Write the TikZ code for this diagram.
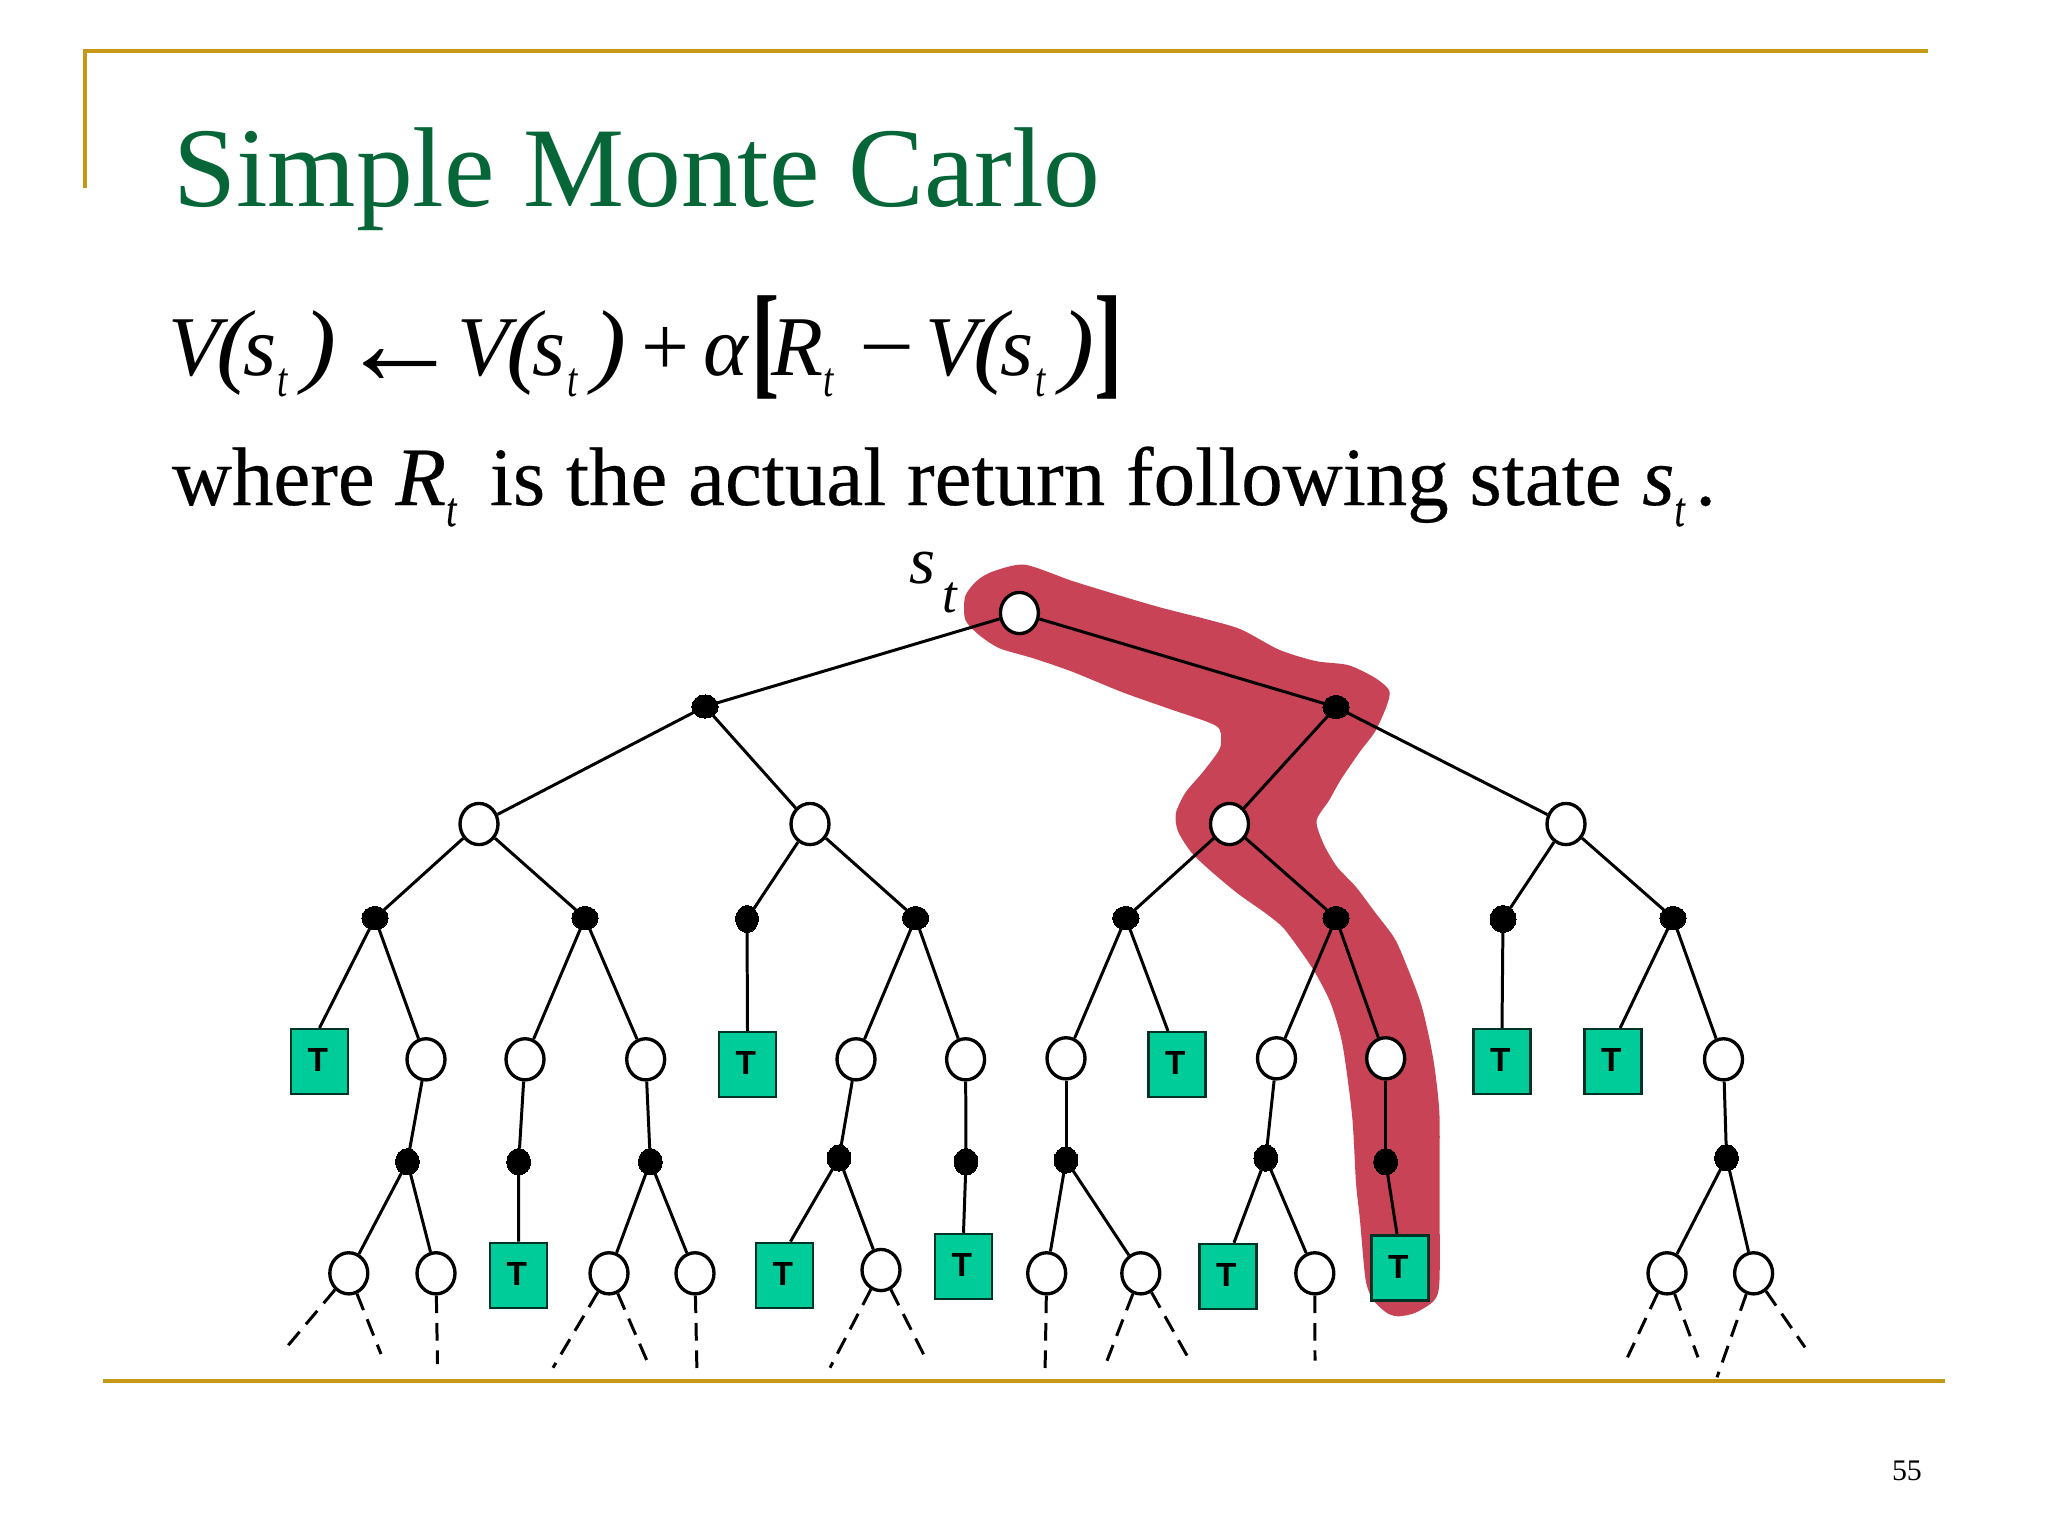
\documentclass[tikz,border=0pt]{standalone}
\usepackage{fontspec}
\setmainfont{Liberation Serif}
\newfontfamily\tfont{Liberation Sans}
\newfontfamily\heavyserif[FakeBold=0.3]{Liberation Serif}
\usetikzlibrary{shapes.geometric}
\definecolor{gold}{RGB}{198,152,24}
\definecolor{titlegreen}{RGB}{6,102,56}
\definecolor{tgreen}{RGB}{0,204,153}
\definecolor{blobred}{RGB}{200,67,85}
\newcommand{\Tee}{\raisebox{0.8pt}{T}\kern1pt}
\newcommand{\Sb}[1]{\raisebox{-6pt}{\scalebox{0.75}[1]{\fontsize{14}{16}\selectfont\itshape #1}}}
\newcommand{\Pn}[1]{\scalebox{1.2}[1.1]{\itshape #1}}
\newcommand{\Vst}{{\itshape V}\kern-1pt\Pn{(}\kern-2.1pt{\itshape s}\kern0.4pt\Sb{t}\kern4.2pt\Pn{)}}
\newcommand{\Brk}[1]{\raisebox{-2pt}{\scalebox{1}[1.47]{\bfseries #1}}}
\tikzset{
  wstate/.style={ellipse,draw=black,fill=white,line width=0.95pt,minimum width=10.8pt,minimum height=11.7pt,inner sep=0pt},
  bstate/.style={ellipse,fill=black,draw=black,line width=0pt,minimum width=7.5pt,minimum height=6.6pt,inner sep=0pt},
  cstate/.style={bstate,minimum width=6.8pt,minimum height=7.5pt},
  tbox/.style={rectangle,draw=black!75!tgreen,fill=tgreen,line width=0.7pt,minimum width=16.2pt,minimum height=18.5pt,inner sep=0pt,font=\tfont\bfseries\fontsize{9.5}{11}\selectfont},
  edge/.style={draw=black,line width=0.85pt},
  dashedge/.style={draw=black,line width=0.85pt,dash pattern=on 5pt off 2.8pt},
  frameline/.style={draw=gold,line width=1.15pt},
  txt/.style={anchor=base west,inner sep=0pt,outer sep=0pt}
}
\begin{document}
\begin{tikzpicture}[x=0.01cm,y=-0.01cm]
\useasboundingbox (0,0) rectangle (2048,1535);
% frame
\coordinate (fa) at (85,188); \coordinate (fb) at (85,51); \coordinate (fc) at (1928,51);
\coordinate (fd) at (103,1381); \coordinate (fe) at (1945,1381);
\draw[frameline] (fa) -- (fb) -- (fc);
\draw[frameline] (fd) -- (fe);
% texts
\node[txt,text=titlegreen,font=\fontsize{32.3}{36}\selectfont] (title) at (173,206.7) {Simple Monte Carlo};
\node[txt,font=\fontsize{24.2}{28}\selectfont] (eq) at (168,375) {\Vst\kern0.6pt\raisebox{-2.8pt}{\scalebox{1.45}{\bfseries\char"2190}}\kern-1.3pt\Vst\kern4.2pt+\kern4pt{\itshape\char"03B1}\kern1pt\Brk{[}\kern-2.4pt{\itshape R}\Sb{t}\kern7.5pt\scalebox{1.15}[1]{\char"2212}\kern3pt\Vst\kern0pt\Brk{]}};
\node[txt,font=\heavyserif\fontsize{23.6}{28}\selectfont] (where) at (172,505) {where {\itshape R}\Sb{t}\kern9.5pt is the actual return following state {\itshape s}\Sb{t}\kern3pt.};
\node[txt,font=\fontsize{19}{20}\selectfont\itshape] (slabel) at (909,583) {s\raisebox{-8.5pt}{\kern2pt\fontsize{15}{17}\selectfont t}};
\node[txt,font=\fontsize{8.5}{10}\selectfont] (page) at (1892,1480) {55};
% highlight
\begin{scope}[shift={(900,530)},x=0.003827cm,y=-0.005102cm]
\fill[blobred] plot[smooth cycle,tension=0.45] coordinates {
(325,68)(450,100)(580,130)(680,152)(800,175)(890,195)(990,235)(1085,257)(1170,265)(1240,290)(1277,315)(1270,345)(1240,395)(1200,435)(1150,490)(1120,530)(1087,570)(1105,615)(1140,660)(1190,700)(1240,750)(1290,800)(1320,850)(1360,930)(1385,1010)(1398,1070)(1408,1150)(1408,1300)(1408,1470)(1395,1510)(1345,1535)(1300,1542)(1270,1535)(1235,1510)(1215,1470)(1200,1350)(1190,1280)(1180,1150)(1155,1010)(1125,930)(1085,870)(1045,825)(1000,780)(955,752)(880,712)(810,668)(760,632)(725,590)(720,555)(745,515)(790,475)(830,435)(838,415)(825,384)(700,350)(580,318)(450,278)(350,252)(260,232)(205,205)(170,175)(170,130)(200,100)(240,82)};
\end{scope}
% level 0-3
\node[wstate] (root) at (1019.4,613) {};
\node[bstate] (d1) at (705,706.5) {};
\node[bstate] (d2) at (1336,707) {};
\node[wstate] (w1) at (479,824) {};
\node[wstate] (w2) at (810,824) {};
\node[wstate] (w3) at (1229.5,824) {};
\node[wstate] (w4) at (1566,824) {};
\node[bstate] (b1) at (375,918) {};
\node[bstate] (b2) at (585,918) {};
\node[bstate,minimum width=6.4pt,minimum height=7.7pt] (b3) at (747,919) {};
\node[bstate] (b4) at (915.5,918) {};
\node[bstate] (b5) at (1125.8,918) {};
\node[bstate] (b6) at (1336,918) {};
\node[bstate,minimum width=7.4pt,minimum height=7.7pt] (b7) at (1503,919) {};
\node[bstate] (b8) at (1673,918) {};
% level 4
\node[tbox] (ta) at (319.5,1061.7) {\Tee};
\node[wstate] (xa) at (426,1059.3) {};
\node[wstate] (xb) at (525,1059.3) {};
\node[wstate] (xc) at (645.7,1059.3) {};
\node[tbox] (tb) at (747.5,1064.7) {\Tee};
\node[wstate] (xd) at (856,1059.3) {};
\node[wstate] (xe) at (965.6,1059.3) {};
\node[wstate] (xf) at (1066,1058.3) {};
\node[tbox] (tc) at (1177,1064.7) {\Tee};
\node[wstate] (xg) at (1276.5,1058.3) {};
\node[wstate] (xh) at (1385.7,1058.3) {};
\node[tbox] (td) at (1502,1061.7) {\Tee};
\node[tbox] (te) at (1613,1061.7) {\Tee};
\node[wstate] (xi) at (1723.5,1059.3) {};
% level 5
\node[cstate] (ca) at (407.4,1161.7) {};
\node[cstate] (cb) at (518.7,1161.7) {};
\node[cstate] (cc) at (650.3,1161.7) {};
\node[cstate] (cd) at (839,1158) {};
\node[cstate] (ce) at (966,1161.7) {};
\node[cstate] (cf) at (1066,1160) {};
\node[cstate] (cg) at (1265.8,1158) {};
\node[cstate] (ch) at (1385.7,1161.7) {};
\node[cstate] (ci) at (1726.5,1157.7) {};
% level 6
\node[wstate] (ya) at (348.8,1273.3) {};
\node[wstate] (yb) at (436,1273.3) {};
\node[tbox] (tf) at (518.5,1275.3) {\Tee};
\node[wstate] (yc) at (609,1273.3) {};
\node[wstate] (yd) at (695,1273.3) {};
\node[tbox] (tg) at (784.5,1275.3) {\Tee};
\node[wstate] (ye) at (881,1270) {};
\node[tbox] (th) at (963.5,1266.5) {\Tee};
\node[wstate] (yf) at (1046.7,1273.3) {};
\node[wstate] (yg) at (1140.8,1273.3) {};
\node[tbox] (ti) at (1228,1276.5) {\Tee};
\node[wstate] (yh) at (1314.8,1273.3) {};
\node[tbox] (tj) at (1400,1268) {\Tee};
\node[wstate] (yi) at (1667,1273.3) {};
\node[wstate] (yj) at (1753.6,1273.3) {};
% edges
\foreach \a/\b in {root/d1,root/d2,d1/w1,d1/w2,d2/w3,d2/w4,w1/b1,w1/b2,w2/b3,w2/b4,w3/b5,w3/b6,w4/b7,w4/b8,
 b1/ta.north,b1/xa,b2/xb,b2/xc,b3/tb.north,b4/xd,b4/xe,b5/xf,b5/tc.105,b6/xg,b6/xh,b7/td.north,b8/te.78,b8/xi,
 xa/ca,xb/cb,xc/cc,xd/cd,xe/ce,xf/cf,xg/cg,xh/ch,xi/ci,
 ca/ya,ca/yb,cb/tf.north,cc/yc,cc/yd,cd/tg.80,cd/ye,ce/th.north,cf/yf,cf/yg,cg/ti.80,cg/yh,ch/tj.95,ci/yi,ci/yj}
 {\draw[edge] (\a) -- (\b);}
% dashed continuations
\coordinate (e1) at (286.5,1347.3); \coordinate (e2) at (381,1354);
\coordinate (e3) at (437.5,1364);
\coordinate (e4) at (553,1367.7); \coordinate (e5) at (650,1367.7);
\coordinate (e6) at (697,1374.3);
\coordinate (e7) at (830,1367.7); \coordinate (e8) at (927,1361);
\coordinate (e9) at (1045,1374.3);
\coordinate (e10) at (1107,1360.7); \coordinate (e11) at (1188,1357.3);
\coordinate (e12) at (1315,1360.7);
\coordinate (e13) at (1627.5,1357.3); \coordinate (e14) at (1698,1357.3);
\coordinate (e15) at (1717,1377.3); \coordinate (e16) at (1805,1347.3);
\foreach \a/\b in {ya/e1,ya/e2,yb/e3,yc/e4,yc/e5,yd/e6,ye/e7,ye/e8,yf/e9,yg/e10,yg/e11,yh/e12,yi/e13,yi/e14,yj/e15,yj/e16}
 {\draw[dashedge] (\a) -- (\b);}
\end{tikzpicture}
\end{document}
